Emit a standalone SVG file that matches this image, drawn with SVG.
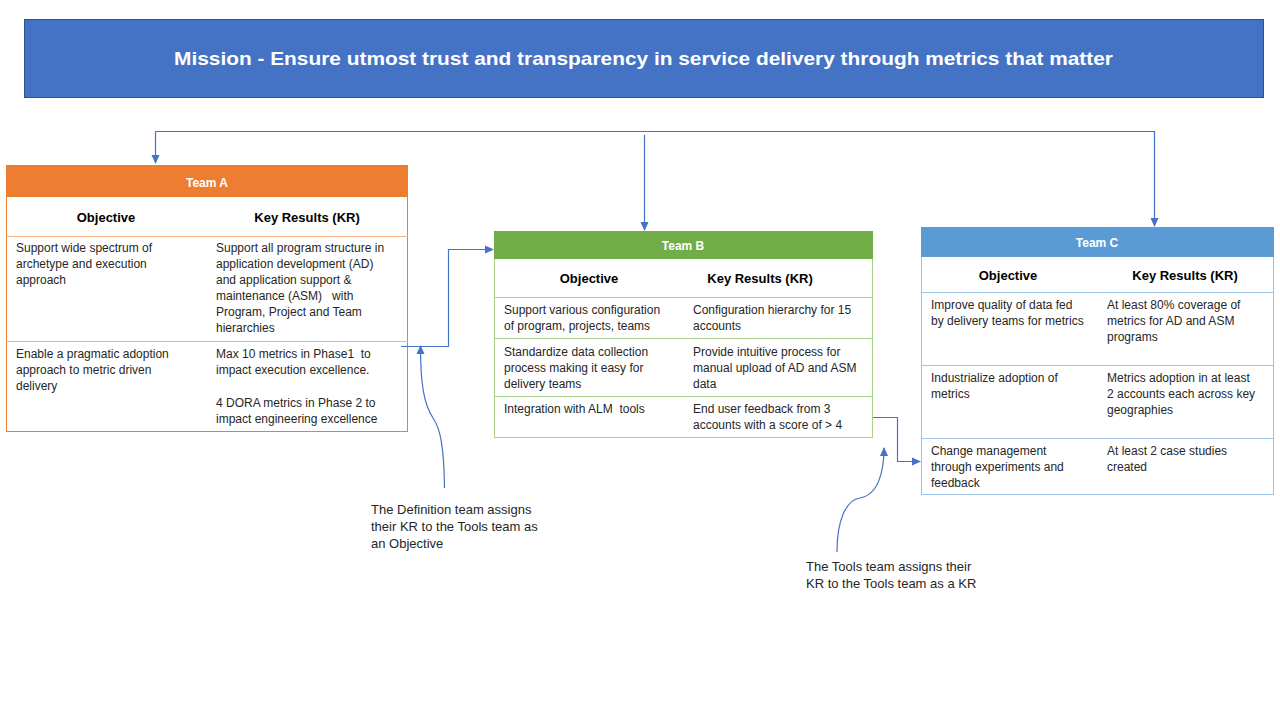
<svg xmlns="http://www.w3.org/2000/svg" width="1280" height="720" viewBox="0 0 1280 720">
<defs>
<marker id="arr" markerWidth="10" markerHeight="10" refX="8" refY="5" orient="auto" markerUnits="userSpaceOnUse">
<path d="M0,1 L9,5 L0,9 Z" fill="#4472C4"/>
</marker>
<style>
text{font-family:"Liberation Sans",Arial,sans-serif;fill:#262626}
.t{font-size:12px}
.h{font-size:13px;font-weight:bold;fill:#000}
.team{font-size:12px;font-weight:bold;fill:#fff}
.c{font-size:13px}
.conn{fill:none;stroke:#4472C4;stroke-width:1.2}
</style>
</defs>
<rect width="1280" height="720" fill="#fff"/>
<g id="mission">
<rect x="24.5" y="19.5" width="1239" height="78" fill="#4472C4" stroke="#2F528F" stroke-width="1"/>
<text x="643.5" y="65" text-anchor="middle" style="font-size:19px;font-weight:bold;fill:#fff" textLength="939" lengthAdjust="spacingAndGlyphs">Mission - Ensure utmost trust and transparency in service delivery through metrics that matter</text>
</g>
<g id="teamA">
<rect x="6.5" y="165.5" width="401" height="266" fill="#fff" stroke="#ED7D31"/>
<rect x="6" y="165" width="402" height="32" fill="#ED7D31"/>
<text class="team" x="207" y="187" text-anchor="middle">Team A</text>
<line x1="6" y1="236.5" x2="408" y2="236.5" stroke="#F4B183"/>
<line x1="6" y1="341.5" x2="408" y2="341.5" stroke="#F4B183"/>
<text class="h" x="106" y="222" text-anchor="middle">Objective</text>
<text class="h" x="307" y="222" text-anchor="middle">Key Results (KR)</text>
<text class="t" x="16" y="252">Support wide spectrum of</text>
<text class="t" x="16" y="268">archetype and execution</text>
<text class="t" x="16" y="284">approach</text>
<text class="t" x="216" y="252">Support all program structure in</text>
<text class="t" x="216" y="268">application development (AD)</text>
<text class="t" x="216" y="284">and application support &amp;</text>
<text class="t" x="216" y="300" xml:space="preserve">maintenance (ASM)   with</text>
<text class="t" x="216" y="316">Program, Project and Team</text>
<text class="t" x="216" y="332">hierarchies</text>
<text class="t" x="16" y="358">Enable a pragmatic adoption</text>
<text class="t" x="16" y="374">approach to metric driven</text>
<text class="t" x="16" y="390">delivery</text>
<text class="t" x="216" y="358" xml:space="preserve">Max 10 metrics in Phase1  to</text>
<text class="t" x="216" y="374">impact execution excellence.</text>
<text class="t" x="216" y="407">4 DORA metrics in Phase 2 to</text>
<text class="t" x="216" y="423">impact engineering excellence</text>
</g>
<g id="teamB">
<rect x="494.5" y="231.5" width="378" height="206" fill="#fff" stroke="#A9D18E"/>
<rect x="494" y="231" width="379" height="28" fill="#70AD47"/>
<text class="team" x="683" y="250" text-anchor="middle">Team B</text>
<line x1="494" y1="297.5" x2="873" y2="297.5" stroke="#A9D18E"/>
<line x1="494" y1="338.5" x2="873" y2="338.5" stroke="#A9D18E"/>
<line x1="494" y1="396.5" x2="873" y2="396.5" stroke="#A9D18E"/>
<text class="h" x="589" y="283" text-anchor="middle">Objective</text>
<text class="h" x="760" y="283" text-anchor="middle">Key Results (KR)</text>
<text class="t" x="504" y="314">Support various configuration</text>
<text class="t" x="504" y="330">of program, projects, teams</text>
<text class="t" x="693" y="314">Configuration hierarchy for 15</text>
<text class="t" x="693" y="330">accounts</text>
<text class="t" x="504" y="356">Standardize data collection</text>
<text class="t" x="504" y="372">process making it easy for</text>
<text class="t" x="504" y="388">delivery teams</text>
<text class="t" x="693" y="356">Provide intuitive process for</text>
<text class="t" x="693" y="372">manual upload of AD and ASM</text>
<text class="t" x="693" y="388">data</text>
<text class="t" x="504" y="413" xml:space="preserve">Integration with ALM  tools</text>
<text class="t" x="693" y="413">End user feedback from 3</text>
<text class="t" x="693" y="429">accounts with a score of &gt; 4</text>
</g>
<g id="teamC">
<rect x="921.5" y="227.5" width="352" height="267" fill="#fff" stroke="#9DC3E6"/>
<rect x="921" y="227" width="353" height="30" fill="#5B9BD5"/>
<text class="team" x="1097" y="247" text-anchor="middle">Team C</text>
<line x1="921" y1="292.5" x2="1274" y2="292.5" stroke="#9DC3E6"/>
<line x1="921" y1="365.5" x2="1274" y2="365.5" stroke="#9DC3E6"/>
<line x1="921" y1="438.5" x2="1274" y2="438.5" stroke="#9DC3E6"/>
<text class="h" x="1008" y="280" text-anchor="middle">Objective</text>
<text class="h" x="1185" y="280" text-anchor="middle">Key Results (KR)</text>
<text class="t" x="931" y="309">Improve quality of data fed</text>
<text class="t" x="931" y="325">by delivery teams for metrics</text>
<text class="t" x="1107" y="309">At least 80% coverage of</text>
<text class="t" x="1107" y="325">metrics for AD and ASM</text>
<text class="t" x="1107" y="341">programs</text>
<text class="t" x="931" y="382">Industrialize adoption of</text>
<text class="t" x="931" y="398">metrics</text>
<text class="t" x="1107" y="382">Metrics adoption in at least</text>
<text class="t" x="1107" y="398">2 accounts each across key</text>
<text class="t" x="1107" y="414">geographies</text>
<text class="t" x="931" y="455">Change management</text>
<text class="t" x="931" y="471">through experiments and</text>
<text class="t" x="931" y="487">feedback</text>
<text class="t" x="1107" y="455">At least 2 case studies</text>
<text class="t" x="1107" y="471">created</text>
</g>
<g id="note1">
<text class="c" x="371" y="514">The Definition team assigns</text>
<text class="c" x="371" y="531">their KR to the Tools team as</text>
<text class="c" x="371" y="548">an Objective</text>
</g>
<g id="note2">
<text class="c" x="806" y="571">The Tools team assigns their</text>
<text class="c" x="806" y="588">KR to the Tools team as a KR</text>
</g>
<g id="connectors">
<polyline class="conn" points="155.5,131.5 1154.5,131.5 1154.5,226" marker-end="url(#arr)"/>
<line class="conn" x1="155.5" y1="131.5" x2="155.5" y2="163" marker-end="url(#arr)"/>
<line class="conn" x1="644.5" y1="135" x2="644.5" y2="230" marker-end="url(#arr)"/>
<polyline class="conn" points="401,346.5 448.5,346.5 448.5,249.5 493,249.5" marker-end="url(#arr)"/>
<polyline class="conn" points="873,417.5 897.5,417.5 897.5,461.5 920,461.5" marker-end="url(#arr)"/>
<path class="conn" d="M444.5,488 C444,445 440,428 433,418 C424,404 420.5,385 420.5,346" marker-end="url(#arr)"/>
<path class="conn" d="M837,552 C837,520 846,500 860,498 C878,495 884,472 884,448" marker-end="url(#arr)"/>
</g>
</svg>
